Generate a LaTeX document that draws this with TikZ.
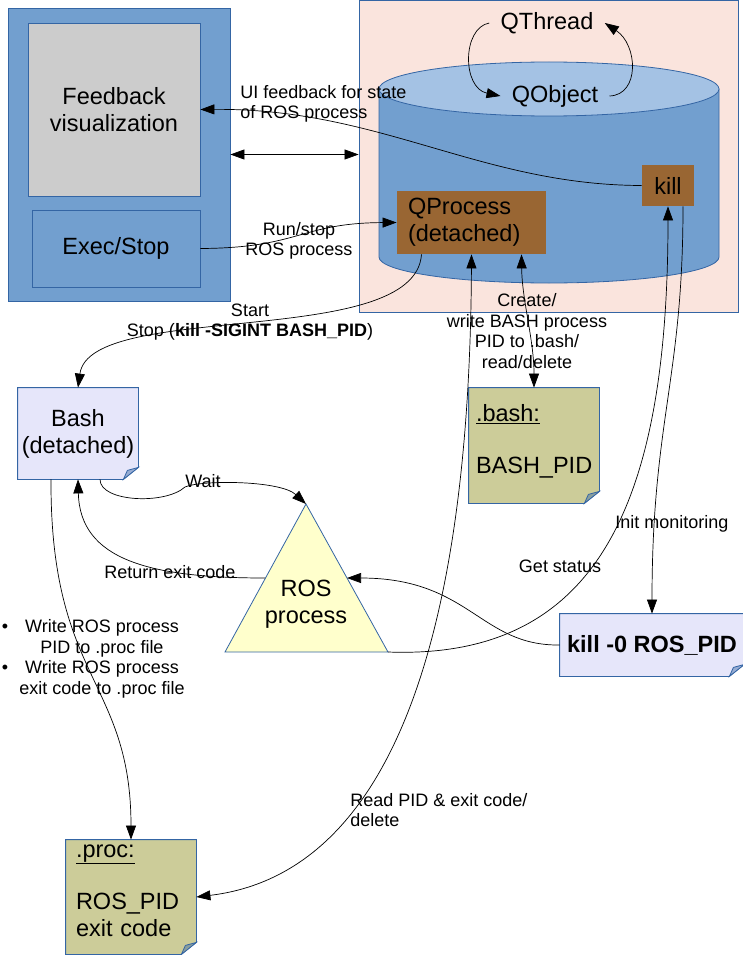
\documentclass[tikz,border=0pt]{standalone}
\usepackage{fontspec}
\setmainfont{Liberation Sans}
\usetikzlibrary{arrows.meta}

\definecolor{panelblue}{RGB}{114,159,207}
\definecolor{bordblue}{RGB}{52,101,164}
\definecolor{topblue}{RGB}{164,194,228}
\definecolor{pinkbg}{RGB}{250,228,221}
\definecolor{fbgray}{RGB}{204,204,204}
\definecolor{qbrown}{RGB}{153,102,51}
\definecolor{lavender}{RGB}{230,230,250}
\definecolor{olive}{RGB}{204,204,153}
\definecolor{rosyellow}{RGB}{255,255,204}

\begin{document}
\begin{tikzpicture}[x=1pt,y=-1pt,line width=0.8pt,
  every node/.style={inner sep=0pt},
  big/.style={font=\fontsize{23.5}{27}\selectfont},
  small/.style={font=\fontsize{18}{20.5}\selectfont},
  box/.style={draw=bordblue,big,align=center},
  note/.style={big,append after command={\pgfextra{\let\nb\tikzlastnode
    \filldraw[draw=bordblue,fill=#1] (\nb.north west) -- (\nb.north east)
      -- ([yshift=12pt]\nb.south east) -- ([xshift=-15pt]\nb.south east)
      -- (\nb.south west) -- cycle;
    \filldraw[draw=bordblue,fill=#1!55!bordblue] ([yshift=12pt]\nb.south east)
      -- ([xshift=-11pt,yshift=9pt]\nb.south east) -- ([xshift=-15pt]\nb.south east) -- cycle;}}},
  link/.style={draw=black,line width=0.7pt},
  arr/.style={-{Triangle[length=14pt,width=10pt]}},
  arr2/.style={{Triangle[length=14pt,width=10pt]}-{Triangle[length=14pt,width=10pt]}}]
\useasboundingbox (0,0) rectangle (743,955);

% GUI and worker panels
\node (left) [draw=bordblue,fill=panelblue,minimum width=222pt,minimum height=293pt] at (119,154.5) {};
\node (right) [draw=bordblue,fill=pinkbg,minimum width=379pt,minimum height=312pt] at (548.5,156) {};

% cylinder
\filldraw[draw=bordblue,fill=panelblue] (379,89) -- (379,257)
  arc[start angle=180,end angle=360,x radius=170pt,y radius=26pt] -- (719,89) -- cycle;
\filldraw[draw=bordblue,fill=topblue] (549,89) ellipse [x radius=170pt,y radius=27pt];

\node (feedback) [box,fill=fbgray,minimum width=172pt,minimum height=173pt] at (114,109.5) {Feedback\\visualization};
\node (exec) [box,fill=panelblue,minimum width=168pt,minimum height=77pt] at (116,248.5) {Exec/Stop};
\node (qthread) [big,inner xsep=11pt] at (547,23) {QThread};
\node (qobject) [big,inner xsep=11pt] at (555,96) {QObject};
\node (qproc) [big,fill=qbrown,minimum width=149pt,minimum height=63pt,text width=127pt,align=left] at (471.5,222.5) {QProcess\\(detached)};
\node (kill) [big,fill=qbrown,minimum width=52pt,minimum height=41pt] at (668,185.5) {kill};

% notes
\node (bash) [note=lavender,minimum width=120pt,minimum height=91pt,align=center] at (78,433.5) {Bash\\(detached)};
\node (bashfile) [note=olive,minimum width=130pt,minimum height=115pt,text width=116pt,align=left] at (534,445.5) {\underline{.bash:}\\[25pt]BASH\_PID\\[-14pt]\mbox{}};
\node (killzero) [note=lavender,font=\fontsize{23.5}{27}\selectfont\bfseries,minimum width=184pt,minimum height=62pt,align=left] at (652,645) {kill -0 ROS\_PID};
\node (procfile) [note=olive,minimum width=130pt,minimum height=114pt,text width=110pt,align=left] at (131,897) {\underline{.proc:}\\[25pt]ROS\_PID\\exit code\\[-14pt]\mbox{}};

% ROS process
\filldraw[draw=bordblue,fill=rosyellow] (306,504) coordinate (rostop) -- (388,652) coordinate (rosright)
  -- (225,652) coordinate (rosleft) -- cycle;
\coordinate (rosin) at (347,578);
\coordinate (rosout) at (265,578);
\node (ros) [big,align=center] at (306,604) {ROS\\process};

% connectors
\draw[link,arr] (qthread.west) .. controls (462,28) and (462,88) .. (qobject.west);
\draw[link,arr] (qobject.east) .. controls (640,95) and (638,45) .. (qthread.east);
\draw[link,arr] (kill.west) .. controls (480,185) and (380,108) .. (feedback.east);
\draw[link,arr2] (left.east) -- (left.east -| right.west);
\draw[link,arr] (exec.east) .. controls (300,248) and (300,223) .. (qproc.west);
\draw[link,arr] ([xshift=-50pt]qproc.south) .. controls (415,350) and (90,300) .. (bash.north);
\draw[link,arr2] ([xshift=50pt]qproc.south) .. controls (522,300) and (534,340) .. (bashfile.north);
\draw[link,arr2] (qproc.south) .. controls (470,560) and (420,870) .. (procfile.east);
\draw[link,arr] (rosright) .. controls (600,660) and (668,500) .. (kill.south);
\draw[link,arr] ([xshift=15pt]kill.south) .. controls (683,380) and (652,420) .. (killzero.north);
\draw[link,arr] (killzero.west) .. controls (480,646) and (470,578) .. (rosin);
\draw[link,arr] ([xshift=22pt]bash.south) .. controls (100,502) and (165,505) .. (185,487)
  .. controls (200,480) and (280,480) .. (rostop);
\draw[link,arr] (rosout) .. controls (150,578) and (80,560) .. (bash.south);
\draw[link,arr] ([xshift=-27pt]bash.south) .. controls (50,680) and (131,680) .. (procfile.north);

% labels
\node (uilabel) [small,anchor=west,align=left] at (240,104) {UI feedback for state\\of ROS process};
\node (runlabel) [small,align=center] at (299,241) {Run/stop\\ROS process};
\node (startlabel) [small,align=center] at (250,322) {Start\\Stop (\textbf{kill -SIGINT BASH\_PID})};
\node (createlabel) [small,align=center] at (527,331) {Create/\\write BASH process\\PID to .bash/\\read/delete};
\node (waitlabel) [small] at (203,481) {Wait};
\node (returnlabel) [small] at (170,572) {Return exit code};
\node (statuslabel) [small] at (560,566) {Get status};
\node (initlabel) [small] at (672,524) {Init monitoring};
\node (readlabel) [small,anchor=west,align=left] at (350,810) {Read PID \& exit code/\\delete};
\node (writelabel) [small,align=center] at (102,659) {\llap{\textbullet\hspace{17pt}}Write ROS process\\PID to .proc file\\\llap{\textbullet\hspace{17pt}}Write ROS process\\exit code to .proc file};
\end{tikzpicture}
\end{document}
